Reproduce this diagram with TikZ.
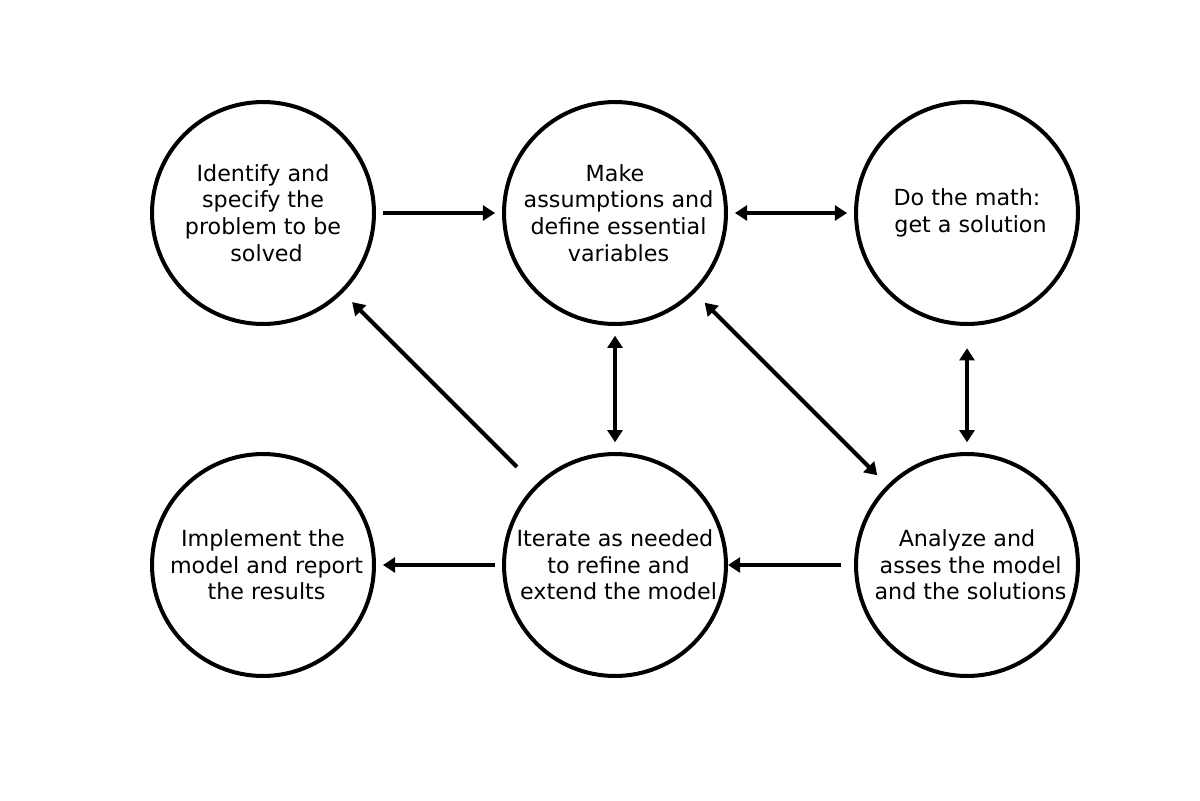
\documentclass[tikz,border=0pt]{standalone}
\usepackage{fontspec}
\setmainfont{DejaVu Sans}
\usetikzlibrary{arrows.meta}
\begin{document}
\begin{tikzpicture}[x=0.72pt,y=-0.72pt,
  stage/.style={circle,draw=black,line width=2.9pt,minimum size=159.8pt,inner sep=0pt,align=center,font=\fontsize{16}{19.2}\selectfont},
  conn/.style={line width=2.9pt,-{Triangle[length=8.8pt,width=10.8pt]}},
  biconn/.style={line width=2.9pt,{Triangle[length=8.8pt,width=10.8pt]}-{Triangle[length=8.8pt,width=10.8pt]}}]
\useasboundingbox (0,0) rectangle (1200,800);
\node[stage] (a) at (263,213) {Identify and\\ specify the\\ problem to be\\ \ solved};
\node[stage] (b) at (615,213) {Make\\ \ assumptions and\\ \ define essential\\ \ variables};
\node[stage] (c) at (967,213) {Do the math:\\ \ get a solution};
\node[stage] (d) at (263,565) {Implement the\\ \ model and report\\ \ the results};
\node[stage] (e) at (615,565) {Iterate as needed\\ \ to refine and\\ \ extend the model};
\node[stage] (f) at (967,565) {Analyze and\\ \ asses the model\\ \ and the solutions};
\draw[conn,shorten <=5pt,shorten >=5pt] (a) -- (b);
\draw[biconn,shorten <=5pt,shorten >=5pt] (b) -- (c);
\draw[biconn,shorten <=7pt,shorten >=7pt] (b) -- (e);
\draw[biconn,shorten <=16pt,shorten >=7pt] (c) -- (f);
\draw[biconn,shorten <=10pt,shorten >=10pt] (b) -- (f);
\draw[conn,shorten <=18.5pt,shorten >=9.4pt] (e) -- (a);
\draw[conn,shorten <=9.4pt,shorten >=0pt] (f) -- (e);
\draw[conn,shorten <=5pt,shorten >=5pt] (e) -- (d);
\end{tikzpicture}
\end{document}
